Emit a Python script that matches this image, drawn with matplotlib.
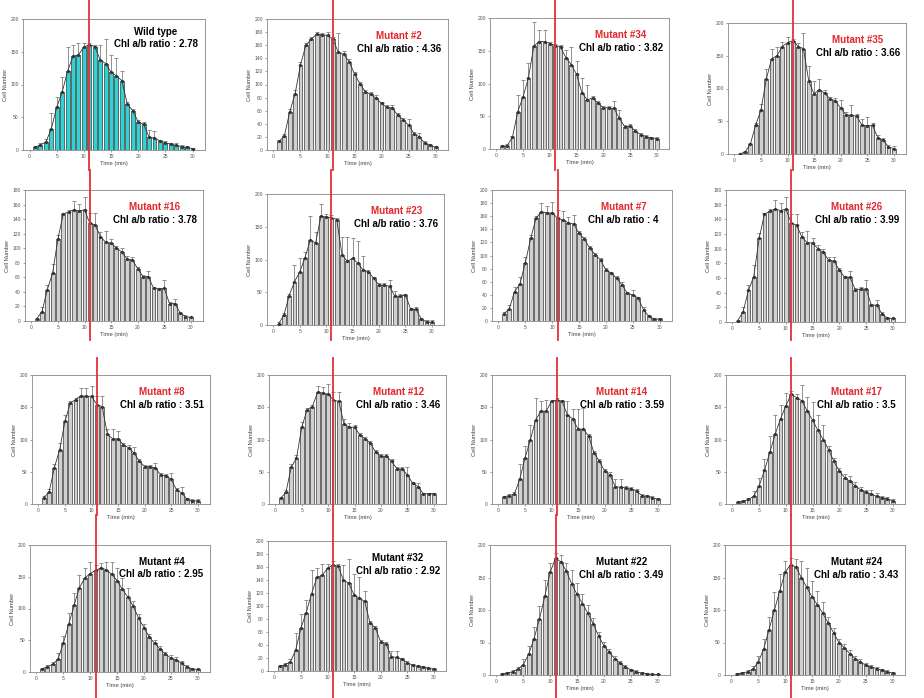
import numpy as np
import matplotlib
matplotlib.use('Agg')
from matplotlib import pyplot as plt
from matplotlib import transforms

plt.rcParams['font.family'] = ['Liberation Sans', 'DejaVu Sans']

time = np.arange(1, 31)

# cell counts per time bin and upper error bars
wt = [4,8,12,32,65,88,120,143,145,157,161,158,138,132,119,113,106,70,60,43,39,20,18,14,11,9,7,5,4,2]
wt_err = [2,2,5,25,16,24,38,18,18,6,3,3,23,38,26,27,14,3,3,3,3,11,11,2,2,2,3,2,2,1]
m2 = [13,21,58,86,130,160,169,177,176,175,169,149,146,135,116,101,89,85,79,71,65,64,53,46,38,25,20,10,7,4]
m2_err = [3,3,5,6,5,4,4,3,3,5,3,29,5,4,3,3,3,3,5,3,3,4,3,3,9,3,6,3,2,2]
m34 = [4,5,18,57,80,109,157,164,164,161,158,156,139,129,114,86,75,78,70,63,63,62,47,34,35,27,22,19,17,16]
m34_err = [2,2,2,26,25,23,37,17,17,3,3,3,12,27,20,22,23,3,3,3,3,11,13,2,3,3,3,3,2,2]
m35 = [0,3,15,44,67,114,145,150,164,170,173,164,161,111,92,98,93,84,81,70,60,59,58,44,43,44,24,21,11,8]
m35_err = [1,1,2,3,10,16,15,14,7,8,2,6,24,24,19,16,4,3,5,12,4,16,3,10,14,3,5,4,3,4]
m16 = [3,13,43,66,113,147,150,153,151,153,134,132,116,108,107,100,95,85,84,72,61,61,45,44,45,24,24,11,6,5]
m16_err = [1,6,7,12,5,2,2,12,10,17,14,16,6,16,6,3,5,4,4,2,2,8,2,2,12,2,6,2,2,1]
m23 = [2,15,45,66,81,103,130,125,166,165,164,161,107,97,102,94,84,81,71,61,61,59,44,44,46,24,24,9,5,4]
m23_err = [2,4,3,26,22,8,36,17,18,5,4,3,28,38,31,34,21,3,3,3,3,9,8,3,2,2,3,2,2,3]
m7 = [11,18,45,56,89,126,157,167,165,165,157,154,150,148,134,125,111,101,93,78,73,65,55,42,40,35,17,7,3,3]
m7_err = [2,6,7,11,9,5,4,13,11,16,13,14,9,14,4,3,4,3,3,3,2,3,5,3,8,2,5,2,2,2]
m26 = [2,14,43,62,114,147,151,154,152,154,135,132,116,108,108,100,95,84,83,71,61,61,44,45,45,23,23,11,5,5]
m26_err = [1,6,7,16,8,2,3,12,10,17,12,15,7,16,6,5,5,5,5,3,2,8,3,3,12,2,7,3,2,1]
m8 = [10,18,56,84,128,156,162,168,167,167,154,151,108,101,101,92,87,79,66,58,58,56,45,44,38,22,17,7,5,5]
m8_err = [2,5,6,10,10,3,3,12,13,16,13,16,9,15,12,3,4,9,3,3,3,7,3,2,10,3,9,2,2,3]
m12 = [9,18,57,71,119,146,151,173,172,170,161,159,124,119,119,107,101,94,80,74,74,66,55,54,45,32,27,16,16,16]
m12_err = [2,3,5,5,8,3,3,10,10,16,13,14,8,6,3,3,3,3,3,3,3,3,3,3,13,2,6,1,1,1]
m14 = [11,13,15,38,71,99,130,144,144,159,161,159,138,132,116,116,105,79,66,51,45,27,26,25,24,20,13,12,10,7]
m14_err = [2,2,3,24,19,23,35,15,17,3,3,3,22,16,32,33,3,3,3,3,4,11,12,3,3,3,3,2,2,2]
m17 = [3,4,7,12,28,52,80,108,132,152,170,165,160,144,130,114,100,84,66,51,41,35,28,22,18,15,12,10,8,5]
m17_err = [2,2,3,8,12,18,25,30,22,20,5,6,25,22,28,24,22,6,5,5,5,8,6,4,4,6,5,3,3,2]
m4 = [5,8,12,20,45,75,105,133,148,155,160,164,161,154,144,130,118,104,85,70,55,45,36,28,22,19,14,8,5,4]
m4_err = [2,3,4,10,12,18,20,20,15,18,8,8,12,20,20,18,15,8,6,5,5,5,5,4,4,4,3,3,2,1]
m32 = [7,10,14,32,66,90,119,144,147,158,163,161,140,135,117,112,107,74,66,45,42,22,21,18,13,9,7,6,4,3]
m32_err = [2,2,4,26,21,19,37,15,18,7,6,3,23,38,32,33,16,3,3,3,3,9,10,2,2,2,2,2,2,2]
m22 = [2,3,5,9,16,32,56,86,121,158,180,174,160,140,124,110,95,79,60,45,35,25,18,12,8,5,3,2,1,1]
m22_err = [1,2,2,4,8,12,18,20,25,15,8,10,12,22,18,15,12,8,6,6,5,4,3,3,2,2,2,1,1,1]
m24 = [2,3,5,9,20,40,70,100,130,158,170,166,150,135,120,108,95,80,65,50,42,33,25,20,15,12,10,7,5,3]
m24_err = [1,2,3,5,10,15,20,28,25,18,10,12,25,30,25,22,18,10,8,6,5,5,4,4,3,3,3,2,2,1]

series = [wt, m2, m34, m35, m16, m23, m7, m26, m8, m12, m14, m17, m4, m32, m22, m24]
errors = [wt_err, m2_err, m34_err, m35_err, m16_err, m23_err, m7_err, m26_err,
          m8_err, m12_err, m14_err, m17_err, m4_err, m32_err, m22_err, m24_err]
names = ['Wild type', 'Mutant #2', 'Mutant #34', 'Mutant #35',
         'Mutant #16', 'Mutant #23', 'Mutant #7', 'Mutant #26',
         'Mutant #8', 'Mutant #12', 'Mutant #14', 'Mutant #17',
         'Mutant #4', 'Mutant #32', 'Mutant #22', 'Mutant #24']
ratios = ['2.78', '4.36', '3.82', '3.66', '3.78', '3.76', '4', '3.99',
          '3.51', '3.46', '3.59', '3.5', '2.95', '2.92', '3.49', '3.43']
ymax = [200, 200, 200, 200, 180, 200, 200, 180, 200, 200, 200, 200, 200, 200, 200, 200]
ystep = [50, 20, 50, 50, 20, 50, 20, 20, 50, 50, 50, 50, 50, 20, 50, 50]

# axes boxes in pixels: left, bottom, right, top
boxes = [(23,150,205,19), (267,150,448,19), (490,149,669,18), (728,154,906,23),
         (25,321,203,190), (267,325,444,194), (492,321,672,190), (726,322,905,190),
         (32,504,210,375), (269,504,446,375), (492,504,670,375), (726,504,905,375),
         (30,672,210,545), (268,671,446,541), (490,675,670,545), (725,675,905,545)]
# vertical extent of the red marker per row (pixels)
red_span = [(0,170), (170,340), (358,515), (515,698)]

W, H = 924, 698
fig = plt.figure(figsize=(W/100, H/100), dpi=100)

for i in range(16):
    l, b, r, t = boxes[i]
    ax = fig.add_axes([l/W, 1-b/H, (r-l)/W, (b-t)/H])
    vals = np.array(series[i])
    err = np.array(errors[i])
    face = '#2fd3d3' if i == 0 else '#d0d0d0'
    ax.errorbar(time, vals, yerr=[np.zeros(30), err], fmt='none',
                ecolor='#808080', elinewidth=0.6, capsize=1.6, capthick=0.6, zorder=1)
    ax.bar(time, vals, width=0.72, color=face, edgecolor='#3a3a3a', linewidth=0.5, zorder=2)
    ax.plot(time, vals, color='#333333', lw=0.6, marker='o', ms=1.3, zorder=3)

    ax.set_xlim(-1.2, 32.3)
    ax.set_ylim(0, ymax[i])
    ax.set_xticks([0, 5, 10, 15, 20, 25, 30])
    ax.set_yticks(np.arange(0, ymax[i] + 1, ystep[i]))
    ax.tick_params(labelsize=3.6, colors='#555555', length=1.5, width=0.4, pad=1.5)
    for s in ax.spines.values():
        s.set_color('#888888')
        s.set_linewidth(0.6)
    ax.set_xlabel('Time (min)', fontsize=4.2, color='#444444', labelpad=1.5)
    ax.set_ylabel('Cell Number', fontsize=4.2, color='#444444', labelpad=2)

    title_col = '#e3262c' if 0 < i < 12 else 'black'
    ty1, ty2 = (0.90, 0.81) if i == 0 else (0.87, 0.77)
    ax.text(0.73, ty1, names[i], transform=ax.transAxes, ha='center', va='center',
            fontsize=7, fontweight='bold', color=title_col)
    ax.text(0.73, ty2, 'Chl a/b ratio : ' + ratios[i], transform=ax.transAxes,
            ha='center', va='center', fontsize=7, fontweight='bold', color='black')

    y0, y1 = red_span[i // 4]
    tr = transforms.blended_transform_factory(ax.transData, fig.transFigure)
    ax.plot([11, 11], [1 - y0/H, 1 - y1/H], color='#e0303a', lw=1.3,
            transform=tr, clip_on=False, zorder=5)

fig.savefig('out.png', dpi=100)
